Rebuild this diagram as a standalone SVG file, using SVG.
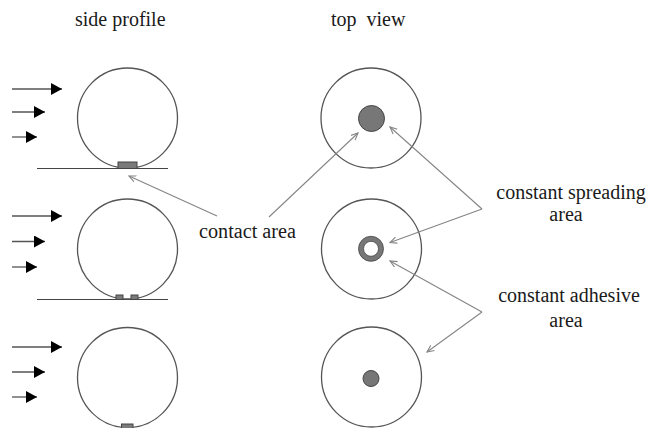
<svg xmlns="http://www.w3.org/2000/svg" width="648" height="428" viewBox="0 0 648 428">
<style>
.t{font-family:"Liberation Serif","Times New Roman",serif;font-size:20px;fill:#1a1a1a}
.c{fill:none;stroke:#555;stroke-width:1.3}
.g{stroke:#444;stroke-width:1.2}
.fl{stroke:#555;stroke-width:1.3}
.pad{fill:#7a7a7a;stroke:#444;stroke-width:1}
.p{stroke:#858585;stroke-width:1.1;fill:none}
</style>
<defs>
<marker id="head" markerWidth="11" markerHeight="12" refX="11" refY="6" orient="auto" markerUnits="userSpaceOnUse">
<path d="M0,0 L11,6 L0,12 Z" fill="#000"/>
</marker>
<marker id="open" markerWidth="8" markerHeight="8" refX="7" refY="4" orient="auto" markerUnits="userSpaceOnUse">
<path d="M0,0.8 L7,4 L0,7.2" fill="none" stroke="#858585" stroke-width="1.1"/>
</marker>
</defs>
<rect width="648" height="428" fill="#fff"/>
<text class="t" x="75" y="26">side profile</text>
<text class="t" x="331" y="26" xml:space="preserve">top  view</text>

<g id="side1">
<line class="g" x1="37" y1="168.5" x2="168" y2="168.5"/>
<circle class="c" cx="127.5" cy="118" r="50"/>
<rect class="pad" x="118" y="162" width="19" height="6.5"/>
</g>
<g id="side2">
<line class="g" x1="37" y1="299.5" x2="168" y2="299.5"/>
<circle class="c" cx="127.5" cy="249" r="50"/>
<rect class="pad" x="116" y="295" width="7" height="4.5"/>
<rect class="pad" x="131" y="295" width="7" height="4.5"/>
</g>
<g id="side3">
<circle class="c" cx="127.5" cy="377.5" r="50"/>
<rect class="pad" x="121.5" y="424" width="11.5" height="5"/>
</g>

<g id="top1">
<circle class="c" cx="371" cy="118" r="50"/>
<circle cx="371.5" cy="118.5" r="13" fill="#777" stroke="#444" stroke-width="1"/>
</g>
<g id="top2">
<circle class="c" cx="371.5" cy="249" r="50"/>
<circle cx="371" cy="248.8" r="10" fill="none" stroke="#777" stroke-width="5"/>
<circle cx="371" cy="248.8" r="12.5" fill="none" stroke="#444" stroke-width="0.8"/>
<circle cx="371" cy="248.8" r="7.5" fill="none" stroke="#444" stroke-width="0.8"/>
</g>
<g id="top3">
<circle class="c" cx="371.5" cy="377" r="50"/>
<circle cx="371" cy="378.5" r="8" fill="#777" stroke="#444" stroke-width="1"/>
</g>

<g id="labels">
<text class="t" x="199" y="238" textLength="97" lengthAdjust="spacingAndGlyphs">contact area</text>
<text class="t" x="571" y="199" text-anchor="middle">constant spreading</text>
<text class="t" x="566" y="221" text-anchor="middle">area</text>
<text class="t" x="569" y="302" text-anchor="middle">constant adhesive</text>
<text class="t" x="566" y="327" text-anchor="middle">area</text>
</g>

<g id="connectors">
<line class="fl" x1="12" y1="89" x2="62" y2="89" marker-end="url(#head)"/>
<line class="fl" x1="12" y1="112" x2="45" y2="112" marker-end="url(#head)"/>
<line class="fl" x1="12" y1="137" x2="37" y2="137" marker-end="url(#head)"/>
<line class="fl" x1="12" y1="216" x2="62" y2="216" marker-end="url(#head)"/>
<line class="fl" x1="12" y1="241.5" x2="45" y2="241.5" marker-end="url(#head)"/>
<line class="fl" x1="12" y1="267" x2="37" y2="267" marker-end="url(#head)"/>
<line class="fl" x1="12" y1="347" x2="62" y2="347" marker-end="url(#head)"/>
<line class="fl" x1="12" y1="372" x2="45" y2="372" marker-end="url(#head)"/>
<line class="fl" x1="12" y1="397" x2="37" y2="397" marker-end="url(#head)"/>

<line class="p" x1="217" y1="216" x2="129" y2="176" marker-end="url(#open)"/>
<line class="p" x1="269" y1="217" x2="358" y2="133" marker-end="url(#open)"/>
<line class="p" x1="482" y1="209" x2="390" y2="127" marker-end="url(#open)"/>
<line class="p" x1="482" y1="209" x2="390" y2="242.5" marker-end="url(#open)"/>
<line class="p" x1="482" y1="312" x2="390" y2="261" marker-end="url(#open)"/>
<line class="p" x1="482" y1="312" x2="427" y2="352" marker-end="url(#open)"/>
</g>
</svg>
